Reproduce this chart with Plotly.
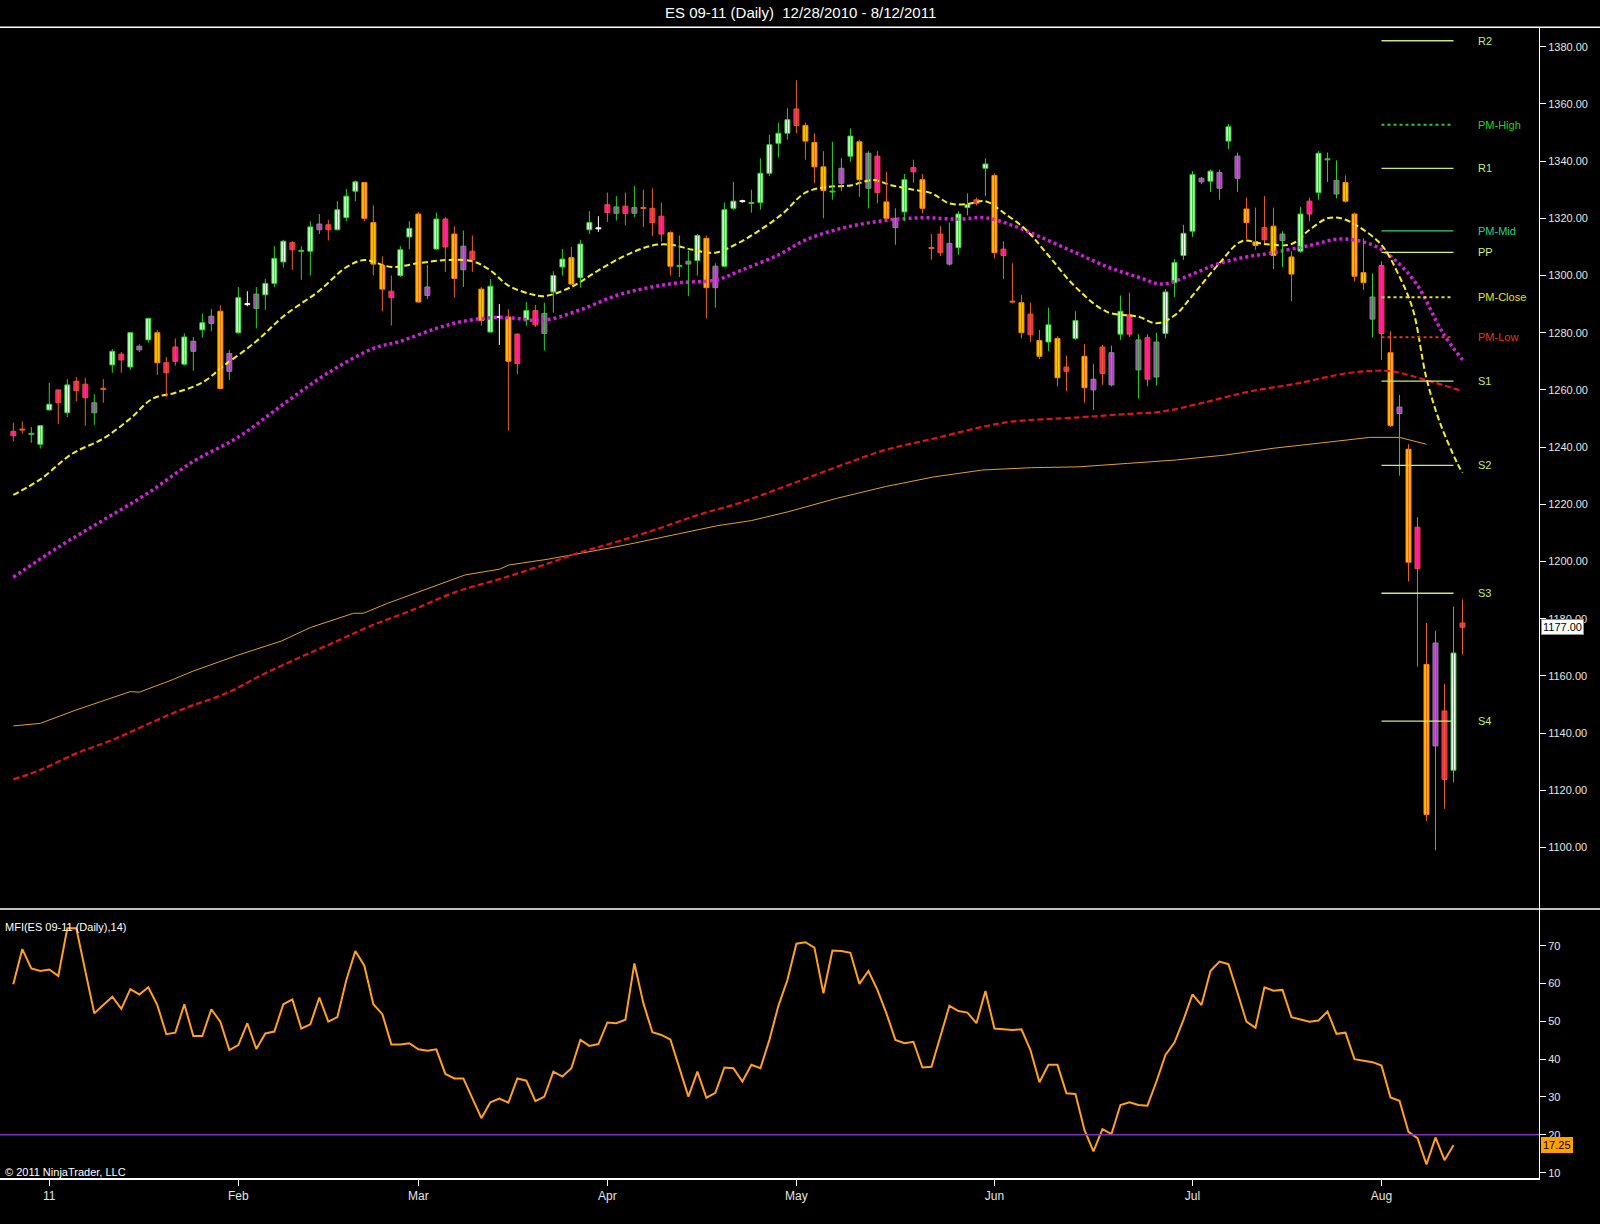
import plotly.graph_objects as go

title = "ES 09-11 (Daily)  12/28/2010 - 8/12/2011"

# daily bars, one per session, index 0 = first bar on the chart
opens = [1245.5, 1246.25, 1244.75, 1241, 1253, 1260, 1252, 1263, 1262, 1255.5,
         1260.5, 1268.75, 1272.5, 1268, 1275.25, 1277.5, 1280, 1269.5, 1275, 1269,
         1277, 1281, 1285.75, 1287.5, 1272.75, 1280, 1290, 1293.5, 1293.25, 1297.25,
         1304.75, 1311.5, 1308.75, 1308.5, 1318, 1317.75, 1316, 1320.25, 1329.5, 1332.5,
         1318.5, 1303.5, 1294.5, 1300, 1313.5, 1321.5, 1296, 1309.25, 1319.75, 1314.5,
         1310.25, 1308.5, 1295.25, 1280.25, 1285.5, 1285.5, 1279.5, 1284.5, 1287.75, 1286.75,
         1294.25, 1303, 1306.25, 1299.25, 1316, 1316.5, 1324.75, 1324, 1324.25, 1323.75,
         1323.75, 1323.5, 1320.75, 1315, 1303.5, 1305, 1305.25, 1313, 1303.25, 1303.25,
         1323.5, 1326, 1325.5, 1325.5, 1335.75, 1346.25, 1349.75, 1358.25, 1352.5, 1346.5,
         1338, 1329.5, 1337.5, 1341.75, 1346.75, 1342.75, 1341.75, 1325.75, 1320, 1322.25,
         1337.75, 1333.5, 1309.75, 1314.5, 1311.25, 1309.75, 1323.75, 1326.5, 1337.5, 1335,
         1309.25, 1291, 1290.5, 1286.5, 1277.25, 1276.75, 1278, 1268, 1278, 1271.75,
         1263.75, 1275, 1273, 1279.5, 1286.25, 1277.5, 1278.25, 1276.75, 1279.75, 1297.5,
         1307, 1315.5, 1334, 1333, 1336, 1347, 1341.75, 1323.25, 1311.75, 1316.75,
         1317.25, 1314.5, 1306.5, 1308.5, 1326, 1329, 1340.75, 1333.25, 1332.5, 1321.5,
         1301, 1292.5, 1303.5, 1273, 1254, 1239.25, 1212, 1164, 1171.5, 1147.75,
         1127, 1178.5]
highs = [1248.5, 1249, 1247, 1247.75, 1262.5, 1260, 1263.75, 1264.5, 1264.25, 1258.5,
         1263.75, 1274.25, 1273.25, 1280.25, 1276, 1285.25, 1281, 1271.5, 1278, 1279.75,
         1278.5, 1286.75, 1288.25, 1289.5, 1274, 1296, 1294.5, 1296, 1298.75, 1310.25,
         1312.5, 1312, 1310.25, 1319, 1321.5, 1319.5, 1326, 1330.25, 1333.25, 1332.75,
         1324.5, 1306.75, 1300, 1310.25, 1319, 1322.25, 1303.75, 1322, 1320.5, 1317.25,
         1315.75, 1314, 1296, 1298.75, 1290, 1288.25, 1279.75, 1290.75, 1289.75, 1290.5,
         1301.5, 1309.25, 1310, 1312.5, 1322.5, 1320.75, 1329, 1327.75, 1329, 1331.25,
         1330, 1330.5, 1325.5, 1315.5, 1314, 1308.75, 1314.5, 1314, 1304.25, 1325.5,
         1332.75, 1326.5, 1330, 1341, 1349.25, 1353.5, 1358.5, 1368.25, 1353.5, 1349.75,
         1343.5, 1346.75, 1341, 1351.5, 1347.5, 1343.5, 1343.5, 1336.25, 1323.5, 1335.5,
         1340.5, 1335.5, 1314.5, 1317.25, 1318.5, 1322.5, 1328.75, 1327.25, 1341, 1335.75,
         1312, 1304.25, 1293.25, 1290.5, 1281, 1288.75, 1278.75, 1272, 1287.5, 1276,
         1269, 1275.75, 1275.5, 1293, 1294, 1279.5, 1279.5, 1280, 1295.25, 1305.75,
         1317.75, 1336.5, 1334.5, 1337, 1337, 1353, 1343, 1327.25, 1323.75, 1327.75,
         1323.75, 1315.5, 1308.5, 1324, 1327.25, 1343.5, 1343, 1340.25, 1335, 1322,
         1313, 1300.75, 1305, 1280.5, 1258.25, 1241, 1215.5, 1178.5, 1175.75, 1157.25,
         1184.25, 1186.75]
lows = [1242, 1244.75, 1241.5, 1239.5, 1252.75, 1248, 1250.5, 1256, 1247.5, 1247.75,
        1255.5, 1266, 1266, 1267, 1273.25, 1276.5, 1265.25, 1257.5, 1268.5, 1268.5,
        1266.75, 1278.25, 1280.5, 1260.25, 1263.5, 1279.5, 1289.25, 1281.5, 1288, 1296,
        1302.75, 1302, 1298.5, 1300, 1314.5, 1312.25, 1315.75, 1319, 1326, 1319,
        1300, 1287.5, 1282.5, 1299.5, 1309.25, 1290.5, 1291.75, 1309, 1301.25, 1292.25,
        1296, 1301.25, 1282.5, 1280, 1275.75, 1245.75, 1265.5, 1282.5, 1282, 1273.75,
        1287, 1300, 1296.75, 1295.75, 1314.5, 1315.25, 1318.75, 1319.25, 1317.5, 1320.5,
        1317, 1313.75, 1311.75, 1300, 1299.5, 1292.75, 1300, 1285, 1288.75, 1303,
        1323, 1325.5, 1322, 1323, 1334.75, 1341.25, 1347.5, 1349.75, 1340.5, 1332.25,
        1320, 1326.5, 1329.5, 1339.75, 1327.5, 1323.5, 1325.25, 1319.5, 1310.75, 1319,
        1332.5, 1321.75, 1305.5, 1306.75, 1303.5, 1307.25, 1321, 1324.5, 1327.75, 1306,
        1298.75, 1290.25, 1278, 1276.75, 1270.75, 1273.5, 1261.25, 1259.5, 1277.5, 1255.5,
        1253, 1261.75, 1261.25, 1277.5, 1278.5, 1257, 1261.25, 1261.5, 1278, 1292.5,
        1305.5, 1313.5, 1332, 1329.25, 1326.5, 1344.25, 1329.25, 1312.75, 1309, 1311.25,
        1302.25, 1303, 1291, 1308, 1319, 1326.5, 1332.75, 1327, 1325.5, 1298,
        1295, 1278.25, 1270.5, 1247, 1230, 1193, 1163.25, 1109.25, 1099, 1113.5,
        1122.75, 1167.5]
closes = [1244, 1246, 1244.5, 1247.5, 1255, 1255.5, 1261.75, 1259.75, 1257.25, 1252,
          1260.25, 1273.5, 1270.5, 1280, 1274, 1285, 1269.5, 1266, 1270, 1278.5,
          1273.5, 1283.5, 1283.25, 1260.5, 1266.5, 1292.25, 1290, 1288.5, 1297.25, 1306,
          1312, 1309, 1308.5, 1317, 1316, 1316, 1323, 1327.75, 1332.75, 1320,
          1304, 1295.25, 1292.25, 1309, 1316.5, 1290.75, 1293, 1319.75, 1310, 1299,
          1302, 1305.5, 1284.25, 1296.25, 1285.5, 1270, 1269.25, 1287.75, 1282.75, 1279.75,
          1300, 1305.75, 1297, 1311, 1318.5, 1316.5, 1322, 1321.75, 1321.75, 1321.75,
          1323.5, 1318.5, 1314.5, 1303.25, 1303.25, 1304, 1314, 1295.75, 1295.75, 1323,
          1326, 1326, 1325.25, 1335.75, 1345.75, 1349.75, 1354.5, 1352.5, 1347, 1338,
          1329.75, 1329.25, 1332.25, 1348.75, 1333.5, 1330.5, 1329, 1320, 1316.75, 1333.5,
          1336.25, 1323.5, 1309.5, 1308, 1304, 1321.5, 1324.75, 1325.25, 1339, 1308,
          1307, 1290.75, 1280, 1279.25, 1271.75, 1282.75, 1264.25, 1266.5, 1284.25, 1260.75,
          1260, 1265.75, 1261.75, 1287.5, 1279.5, 1267, 1263.75, 1264.5, 1294.25, 1304.5,
          1314.75, 1335.25, 1332.75, 1336.5, 1330.5, 1352, 1334, 1318.5, 1310.5, 1312.5,
          1307, 1312.25, 1300.5, 1321.5, 1321.5, 1342.75, 1340.5, 1328.5, 1326, 1299.75,
          1297.5, 1284.75, 1279.75, 1247.5, 1251.75, 1199.75, 1197.5, 1111.5, 1135.5, 1123.75,
          1168, 1177]
# bar paint: U up, D down, P pink, G grey/purple, W/g/o dojis (white, green, orange)
kinds = ("PogUUPUPPG" "oUPUGUDPPU" "GUGDGUWGUU" "UPgUGPUUUD" "DDPUUDGUPD"
         "GPDUWDPUPG" "UUDUUWPGPG" "oPPDgGUDGU" "UWgUUUUPDD" "DgGUDGPDGU"
         "PDoPGUUPUD" "PoDPDUDPUD" "GPGUPGPGUU" "UUGUGUGDDP" "DGDUPUgGDD"
         "DGPDGDPDGP" "UP")

month_ticks = [4, 25, 45, 66, 87, 109, 131, 152]
month_labels = ["11", "Feb", "Mar", "Apr", "May", "Jun", "Jul", "Aug"]
price_ticks = [1100, 1120, 1140, 1160, 1180, 1200, 1220, 1240, 1260, 1280,
               1300, 1320, 1340, 1360, 1380]
mfi_ticks = [10, 20, 30, 40, 50, 60, 70]

# moving averages (bar index, value)
yel_x = [0, 3, 6.5, 10, 13, 15.5, 18, 21, 23.5, 27, 30, 34, 37, 39, 42, 45, 48, 51, 53, 55,
         57.5, 59, 62, 65, 68, 71, 73, 75.5, 78, 80.5, 83, 85.5, 88, 90.5, 93, 95.5, 97.5,
         100, 102, 104, 106, 108, 110, 112.5, 115, 118, 121.5, 125, 127, 129, 131, 134,
         136.5, 139, 142, 144, 146, 147.5, 149.5, 152, 154, 155.5, 157, 158.5, 160.4, 161]
yel_y = [1223.3, 1228.7, 1237.6, 1243, 1250, 1257, 1259, 1262.6, 1268.7, 1277, 1285.7,
         1294.7, 1302.9, 1305.4, 1303, 1304.3, 1305.4, 1305, 1301.8, 1296.5, 1293.5, 1292.8,
         1296, 1301.8, 1307, 1310.5, 1310.8, 1309, 1308, 1311.3, 1316, 1321.7, 1329, 1331,
         1331.5, 1333.4, 1331.6, 1330, 1328.8, 1325.2, 1325, 1326, 1322, 1316, 1307, 1296,
         1287.3, 1285.6, 1283.3, 1286, 1293, 1304.3, 1312, 1311, 1311, 1316, 1320, 1320,
         1317, 1310.7, 1299.6, 1288, 1264, 1248.5, 1234.5, 1231]
mag_x = [0, 5, 10, 15, 20, 25, 30, 35, 40, 43, 47, 50, 54, 59, 63, 67, 70.5, 74, 78, 81,
         85, 88, 92, 96.5, 101, 105, 108, 111, 114, 118, 121.5, 125, 127.7, 131, 134, 137,
         139.6, 144, 147.5, 151, 153.3, 155.9, 158.8, 161]
mag_y = [1194.5, 1205, 1214.5, 1224, 1235, 1243.5, 1255, 1266, 1274.5, 1277, 1281.5, 1284,
         1285.4, 1284.4, 1288, 1293, 1295.7, 1297.5, 1298.4, 1302, 1307.2, 1312.4, 1316.5,
         1319.1, 1320.2, 1319.7, 1320.2, 1317.5, 1313.6, 1308, 1303.1, 1299.4, 1297, 1300.5,
         1304.3, 1306.5, 1307.8, 1310.5, 1312.8, 1310.7, 1306, 1297, 1280, 1270.5]
red_x = [0, 3, 7, 11, 14.7, 19, 23.8, 27.6, 32, 36.2, 39.5, 44.3, 49.2, 54.5, 59.4, 63.2,
         66.4, 71.2, 76.1, 80.7, 86.1, 91.5, 96.9, 102.3, 107.7, 110.9, 118.4, 123.8, 127.6,
         131.9, 137.3, 142.7, 148.1, 151.3, 153.4, 157.2, 161]
red_y = [1123.8, 1127.1, 1132.9, 1137.6, 1142.8, 1148.6, 1154.1, 1160.3, 1166.7, 1172.5,
         1177.2, 1183, 1189.4, 1194.3, 1199.3, 1203.4, 1206.3, 1211, 1216.3, 1220.5, 1226.7,
         1233.1, 1239, 1243, 1247.1, 1248.9, 1250.4, 1251.6, 1252.4, 1255.3, 1259.4, 1262.3,
         1265.8, 1266.7, 1266.4, 1263.2, 1259.6]
org_x = [0, 3, 7, 13, 14, 17.4, 20, 25, 29.8, 33, 37.8, 38.9, 41.6, 46.5, 50.2, 54, 55.1,
         59.4, 63.2, 66.4, 68.5, 73.9, 78.2, 82, 86.1, 91.5, 96.9, 102.3, 107.7, 113.1,
         118.4, 123.8, 129.2, 134.6, 140, 145.4, 150.7, 154, 155.6, 157]
org_y = [1142.5, 1143.4, 1148.1, 1154.5, 1154.3, 1158.3, 1161.7, 1167.3, 1172.2, 1176.9,
         1181.9, 1181.9, 1185.4, 1191.2, 1195.3, 1197.3, 1198.8, 1200.8, 1202.9, 1204.8,
         1206.1, 1209.8, 1212.5, 1214.3, 1217.4, 1222.1, 1226.2, 1229.6, 1232, 1232.8,
         1233.1, 1234.3, 1235.5, 1237.2, 1239.6, 1241.5, 1243.4, 1243.4, 1242.2, 1241]

# MFI(14), one value per bar
mfi = [59.8, 69.1, 64.0, 63.3, 63.7, 62.0, 74.6, 74.6, 63.3, 52.1,
       54.3, 56.5, 53.3, 58.5, 57.1, 59.0, 54.3, 46.6, 47.0, 54.5,
       46.1, 46.1, 53.2, 49.9, 42.4, 43.7, 49.5, 42.7, 46.8, 47.3,
       54.5, 55.8, 48.1, 49.2, 56.3, 49.9, 51.1, 60.9, 68.6, 64.7,
       54.5, 51.9, 43.9, 43.9, 44.2, 42.6, 42.2, 42.6, 36.1, 34.9,
       34.9, 29.6, 24.4, 28.6, 29.6, 28.5, 34.9, 34.3, 28.9, 30.1,
       36.7, 35.4, 37.6, 45.1, 43.5, 44.0, 49.7, 49.5, 50.4, 65.3,
       54.8, 47.1, 46.4, 45.2, 37.6, 30.1, 36.7, 29.8, 31.1, 37.8,
       37.6, 34.1, 38.5, 37.6, 45.1, 54.1, 60.9, 70.5, 70.9, 69.5,
       57.4, 68.7, 68.6, 68.1, 59.9, 63.3, 58.3, 52.1, 45.1, 44.2,
       44.6, 37.8, 38.0, 46.4, 54.1, 52.7, 52.3, 49.5, 58.0, 48.1,
       47.9, 47.7, 47.9, 42.4, 33.9, 38.5, 38.5, 31.0, 30.8, 21.3,
       15.6, 21.5, 20.2, 27.9, 28.6, 27.9, 27.7, 34.1, 41.1, 44.4,
       50.4, 57.1, 54.3, 63.3, 65.8, 65.1, 57.6, 49.9, 48.3, 59.0,
       58.1, 58.3, 51.1, 50.5, 49.9, 50.2, 52.6, 46.7, 47.0, 40.0,
       39.6, 39.2, 38.3, 29.9, 29.0, 20.8, 19.1, 12.2, 19.3, 13.3,
       17.25]
mfi_level = 20
last_price = 1177.00
last_mfi = 17.25

# monthly pivots for August
pivot_names = ["R2", "PM-High", "R1", "PM-Mid", "PP", "PM-Close", "PM-Low", "S1", "S2", "S3", "S4"]
pivot_values = [1382.1, 1352.7, 1337.5, 1315.6, 1308.1, 1292.4, 1278.4, 1263.1, 1233.6, 1188.9, 1144.2]
pivot_from, pivot_to = 152, 160

pivot_style = {
    "R2": ("#c4ec74", "solid"), "PM-High": ("#22d022", "dot"), "R1": ("#c4ec74", "solid"),
    "PM-Mid": ("#2ed08a", "solid"), "PP": ("#d6f07a", "solid"), "PM-Close": ("#e2e21e", "dot"),
    "PM-Low": ("#e03c18", "dot"), "S1": ("#c4ec74", "solid"), "S2": ("#c4ec74", "solid"),
    "S3": ("#c4ec74", "solid"), "S4": ("#c4ec74", "solid"),
}
bar_style = {
    "U": ("#f2fff2", "#2ed02e", "#2ed02e"),
    "D": ("#ffc800", "#ff8c00", "#e8641e"),
    "P": ("#ff1493", "#e8502a", "#e8641e"),
    "G": ("#b43cc8", "#8a8a8a", "#2ed02e"),
    "W": ("#ffffff", "#ffffff", "#ffffff"),
    "g": ("#2ed02e", "#2ed02e", "#2ed02e"),
    "o": ("#e8641e", "#e8641e", "#e8641e"),
}

FONT = "Liberation Sans, Arial, sans-serif"
fig = go.Figure()

# moving averages (behind the bars)
fig.add_scatter(x=org_x, y=org_y, mode="lines", line=dict(color="#e0a030", width=1))
fig.add_scatter(x=red_x, y=red_y, mode="lines", line_shape="spline",
                line=dict(color="#e01414", width=2.2, dash="6px,3px"))
fig.add_scatter(x=mag_x, y=mag_y, mode="lines", line_shape="spline",
                line=dict(color="#d020d8", width=3.5, dash="3px,3px"))
fig.add_scatter(x=yel_x, y=yel_y, mode="lines", line_shape="spline",
                line=dict(color="#f4f020", width=2, dash="6px,3px"))

# wicks first, bodies on top
for k, (fill, edge, wick) in bar_style.items():
    idx = [i for i, c in enumerate(kinds) if c == k]
    wx, wy = [], []
    for i in idx:
        wx += [i, i, None]
        wy += [lows[i], highs[i], None]
    fig.add_scatter(x=wx, y=wy, mode="lines", line=dict(color=wick, width=1))

for k, (fill, edge, wick) in bar_style.items():
    idx = [i for i, c in enumerate(kinds) if c == k]
    size = [max(abs(closes[i] - opens[i]), 0.35) for i in idx]
    base = [min(opens[i], closes[i]) - (s - abs(closes[i] - opens[i])) / 2 for i, s in zip(idx, size)]
    fig.add_bar(x=idx, y=size, base=base, width=0.55,
                marker=dict(color=fill, line=dict(color=edge, width=1)))

# pivot lines + labels
for name, val in zip(pivot_names, pivot_values):
    col, dash = pivot_style[name]
    fig.add_scatter(x=[pivot_from, pivot_to], y=[val, val], mode="lines",
                    line=dict(color=col, width=1.3 if dash == "solid" else 2, dash=dash))
    fig.add_annotation(x=162.5, y=val, xref="x", yref="y", text=name, showarrow=False,
                       xanchor="left", yanchor="middle", font=dict(color=col, size=11, family=FONT))

# MFI panel
fig.add_scatter(x=list(range(len(mfi))), y=mfi, mode="lines", xaxis="x2", yaxis="y2",
                line=dict(color="#ffa01e", width=2))
fig.add_shape(type="line", xref="x2 domain", yref="y2", x0=0, x1=1, y0=mfi_level, y1=mfi_level,
              line=dict(color="#8030c0", width=1.5))

fig.update_traces(hoverinfo="skip", selector=dict(type="scatter"))
fig.update_traces(hoverinfo="skip", selector=dict(type="bar"))

xr = [-1.478, 169.5]
tickfont = dict(color="#e4e4e4", size=11, family=FONT)
fig.update_layout(
    width=1600, height=1224, margin=dict(l=0, r=0, t=0, b=0),
    paper_bgcolor="black", plot_bgcolor="black", showlegend=False, barmode="overlay",
    xaxis=dict(domain=[0, 0.961875], range=xr, anchor="y", showticklabels=False,
               showgrid=False, zeroline=False, ticks=""),
    yaxis=dict(domain=[0.2574, 0.9777], range=[1078.5, 1386.8], anchor="x", side="right",
               tickvals=price_ticks, tickformat=".2f", ticks="outside", ticklen=6,
               tickcolor="white", showline=True, linecolor="white", linewidth=1,
               showgrid=False, zeroline=False, tickfont=tickfont),
    xaxis2=dict(domain=[0, 0.961875], range=xr, anchor="y2", tickvals=month_ticks,
                ticktext=month_labels, ticks="outside", ticklen=6, tickcolor="white",
                showline=True, linecolor="white", linewidth=1.5, showgrid=False,
                zeroline=False, tickfont=dict(color="#e4e4e4", size=12, family=FONT)),
    yaxis2=dict(domain=[0.0373, 0.2574], range=[8.5, 79.7], anchor="x2", side="right",
                tickvals=mfi_ticks, ticks="outside", ticklen=6, tickcolor="white",
                showline=True, linecolor="white", linewidth=1, showgrid=False,
                zeroline=False, tickfont=tickfont),
)

# frame lines
fig.add_shape(type="line", xref="paper", yref="paper", x0=0, x1=1, y0=0.9777, y1=0.9777,
              line=dict(color="white", width=1.5))
fig.add_shape(type="line", xref="paper", yref="paper", x0=0, x1=1, y0=0.2574, y1=0.2574,
              line=dict(color="white", width=1.5))

fig.add_annotation(x=0.5, y=0.9895, xref="paper", yref="paper", text=title, showarrow=False,
                   yanchor="middle", font=dict(color="white", size=15, family=FONT))
fig.add_annotation(x=0.002, y=0.2426, xref="paper", yref="paper", text="MFI(ES 09-11 (Daily),14)",
                   showarrow=False, xanchor="left", yanchor="middle",
                   font=dict(color="white", size=11, family=FONT))
fig.add_annotation(x=0.002, y=0.0425, xref="paper", yref="paper", text="© 2011 NinjaTrader, LLC",
                   showarrow=False, xanchor="left", yanchor="middle",
                   font=dict(color="white", size=11, family=FONT))
fig.add_annotation(x=0.962, y=last_price, xref="paper", yref="y", text=f"{last_price:.2f}",
                   showarrow=False, xanchor="left", xshift=2, bgcolor="white", bordercolor="#909090",
                   borderpad=1, font=dict(color="black", size=11, family=FONT))
fig.add_annotation(x=0.962, y=last_mfi, xref="paper", yref="y2", text=f"{last_mfi:.2f}",
                   showarrow=False, xanchor="left", xshift=2, bgcolor="#ffa000", bordercolor="#ffa000",
                   borderpad=1, font=dict(color="black", size=11, family=FONT))

fig.write_html("out.html", config={"displayModeBar": False},
               post_script="document.body.style.margin='0';")
